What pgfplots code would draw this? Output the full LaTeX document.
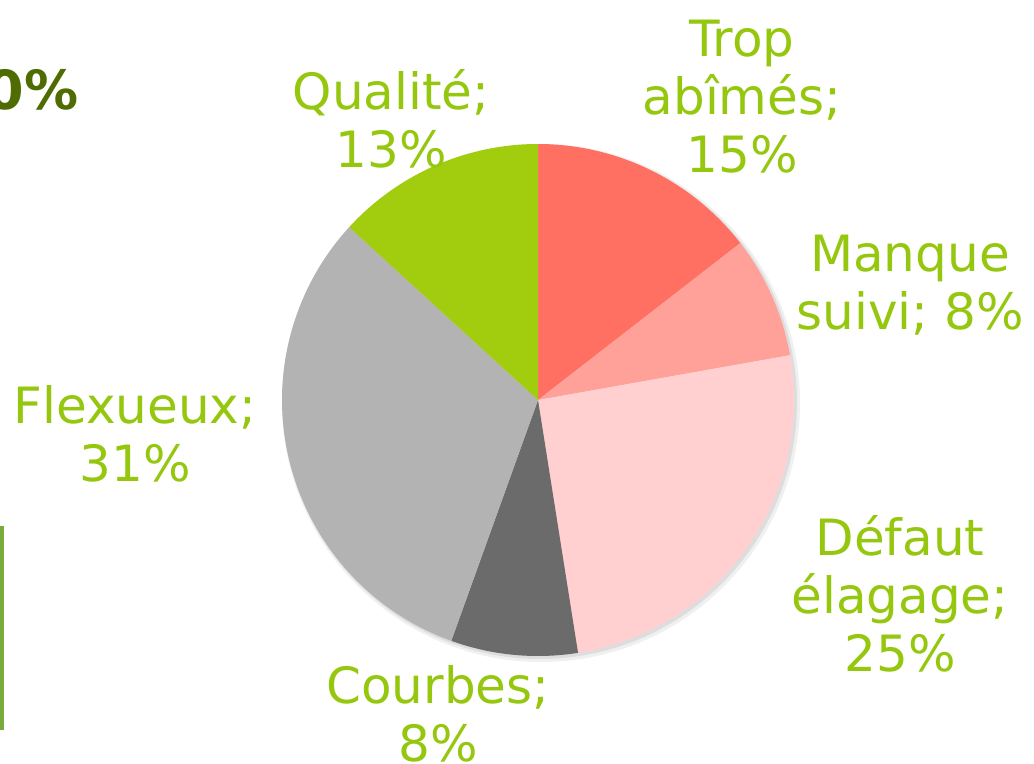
\documentclass[border=0pt]{standalone}
\usepackage{pgfplots}
\usepackage{pgfplotstable}
\pgfplotsset{compat=1.18}
\usepackage{fontspec}
\setmainfont{DejaVu Sans}
\definecolor{c1}{HTML}{FF7062}
\definecolor{c2}{HTML}{FFA199}
\definecolor{c3}{HTML}{FFD0CF}
\definecolor{c4}{HTML}{6B6B6B}
\definecolor{c5}{HTML}{B3B3B3}
\definecolor{c6}{HTML}{A2CD0F}
\definecolor{lab}{HTML}{95C70F}
\definecolor{dkgreen}{HTML}{4F6C02}
\definecolor{boxgreen}{HTML}{7AAA3C}

\pgfplotstableread{
pct col
14.5 c1
7.7 c2
25.3 c3
8.0 c4
31.3 c5
13.2 c6
}\piedata

\begin{document}
\begin{tikzpicture}
\path[use as bounding box, clip] (0,0) rectangle (517pt,382pt);
\begin{axis}[
  at={(0,0)}, anchor=south west,
  scale only axis, width=517pt, height=382pt,
  xmin=0, xmax=1034, ymin=0, ymax=764, y dir=reverse,
  hide axis, clip=false,
]
% soft shadow
\fill[black, opacity=0.06] (axis cs:541,403) circle[radius=129.5pt];
\fill[black, opacity=0.08] (axis cs:540,402) circle[radius=128.5pt];
% slices
\def\cum{0}
\pgfplotsforeachungrouped \i in {0,...,5}{
  \pgfplotstablegetelem{\i}{pct}\of\piedata
  \let\v\pgfplotsretval
  \pgfplotstablegetelem{\i}{col}\of\piedata
  \let\c\pgfplotsretval
  \pgfmathsetmacro\sa{90-3.6*\cum}
  \pgfmathsetmacro\ea{90-3.6*(\cum+\v)}
  \pgfmathsetmacro\cum{\cum+\v}
  \edef\temp{\noexpand\fill[\c] (axis cs:538,400) -- ++(\sa:128pt) arc[start angle=\sa, end angle=\ea, radius=128pt] -- cycle;}
  \temp
}
% labels
\begin{scope}[every node/.style={text=lab, font=\fontsize{25}{29}\selectfont, align=center, inner sep=0pt}]
\node at (axis cs:742,97) {Trop\\abîmés;\\15\%};
\node at (axis cs:910,285) {Manque\\suivi; 8\%};
\node at (axis cs:900,594) {Défaut\\élagage;\\25\%};
\node at (axis cs:438,714) {Courbes;\\8\%};
\node at (axis cs:135,434) {Flexueux;\\31\%};
\node at (axis cs:391,119) {Qualité;\\13\%};
\end{scope}
\node[anchor=base east, text=dkgreen, font=\fontsize{27}{30}\selectfont\bfseries, inner sep=0pt] at (axis cs:79,110) {0\%};
\draw[boxgreen, line width=2pt] (axis cs:-60,528) rectangle (axis cs:2,728);
\end{axis}
\end{tikzpicture}
\end{document}
